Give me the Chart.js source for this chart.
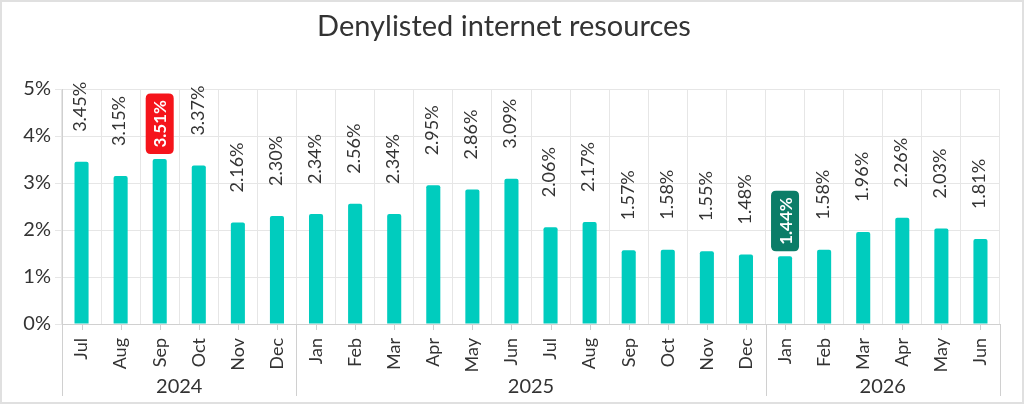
<!DOCTYPE html>
<html>
<head>
<meta charset="utf-8">
<script src="https://cdn.jsdelivr.net/npm/chart.js@4"></script>
<style>
  html, body { margin: 0; padding: 0; background: #fff; }
  #wrap { width: 1024px; height: 404px; position: relative; }
</style>
</head>
<body>
<div id="wrap"><canvas id="denyChart"></canvas></div>
<script>
// ---- data ----
const months = ["Jul", "Aug", "Sep", "Oct", "Nov", "Dec",
  "Jan", "Feb", "Mar", "Apr", "May", "Jun", "Jul", "Aug", "Sep", "Oct", "Nov", "Dec",
  "Jan", "Feb", "Mar", "Apr", "May", "Jun"];
const years = ["2024", "2025", "2026"];
const yearStart = [0, 6, 18]; // first month index of each year
const shares = [3.45, 3.15, 3.51, 3.37, 2.16, 2.30,
  2.34, 2.56, 2.34, 2.95, 2.86, 3.09, 2.06, 2.17, 1.57, 1.58, 1.55, 1.48,
  1.44, 1.58, 1.96, 2.26, 2.03, 1.81];
const yTicks = [0, 1, 2, 3, 4, 5];

const barColor = "#00CCBE";
const textColor = "#333333";
const gridColor = "#e6e6e6";
const fontFamily = "Lato, 'Noto Sans', sans-serif";

const maxIdx = shares.indexOf(Math.max(...shares));
const minIdx = shares.indexOf(Math.min(...shares));

// rounded box helper
function roundBox(ctx, x, y, w, h, r) {
  ctx.beginPath();
  ctx.moveTo(x + r, y);
  ctx.lineTo(x + w - r, y);
  ctx.quadraticCurveTo(x + w, y, x + w, y + r);
  ctx.lineTo(x + w, y + h - r);
  ctx.quadraticCurveTo(x + w, y + h, x + w - r, y + h);
  ctx.lineTo(x + r, y + h);
  ctx.quadraticCurveTo(x, y + h, x, y + h - r);
  ctx.lineTo(x, y + r);
  ctx.quadraticCurveTo(x, y, x + r, y);
  ctx.closePath();
}

// title, value labels, year groups and frame
const extras = {
  id: "extras",
  afterDraw(chart) {
    const ctx = chart.ctx;
    const xs = chart.scales.x;
    const area = chart.chartArea;
    const meta = chart.getDatasetMeta(0);
    ctx.save();

    // frame
    ctx.strokeStyle = "#e0e0e0";
    ctx.lineWidth = 2;
    ctx.strokeRect(1, 1, chart.width - 2, chart.height - 2);

    // title
    ctx.fillStyle = textColor;
    ctx.font = "29px " + fontFamily;
    ctx.textAlign = "center";
    ctx.textBaseline = "middle";
    ctx.fillText("Denylisted internet resources", 504, 27);

    // value labels
    meta.data.forEach((bar, i) => {
      const txt = shares[i].toFixed(2) + "%";
      ctx.save();
      if (i === maxIdx || i === minIdx) {
        ctx.font = "bold 17px " + fontFamily;
        const tw = ctx.measureText(txt).width;
        const h = tw + 13, w = 28;
        const bottom = bar.y - 5;
        ctx.fillStyle = i === maxIdx ? "#F5141B" : "#0B7D68";
        roundBox(ctx, bar.x - w / 2, bottom - h, w, h, 5);
        ctx.fill();
        ctx.translate(bar.x, bottom - 6.5);
        ctx.rotate(-Math.PI / 2);
        ctx.fillStyle = "#fff";
        ctx.textAlign = "left";
        ctx.textBaseline = "middle";
        ctx.fillText(txt, 0, 1);
      } else {
        ctx.font = "18px " + fontFamily;
        ctx.translate(bar.x - 1, bar.y - 30);
        ctx.rotate(-Math.PI / 2);
        ctx.fillStyle = textColor;
        ctx.textAlign = "left";
        ctx.textBaseline = "middle";
        ctx.fillText(txt, 0, 0);
      }
      ctx.restore();
    });

    // small ticks under bars
    ctx.strokeStyle = "#d0d0d0";
    ctx.lineWidth = 1;
    months.forEach((m, i) => {
      const x = Math.round(xs.getPixelForValue(i)) + 0.5;
      ctx.beginPath();
      ctx.moveTo(x, area.bottom);
      ctx.lineTo(x, area.bottom + 6);
      ctx.stroke();
    });

    // year separators + labels
    const half = (xs.getPixelForValue(1) - xs.getPixelForValue(0)) / 2;
    const bounds = yearStart.map((s) => xs.getPixelForValue(s) - half);
    bounds.push(area.right);
    bounds.forEach((b) => {
      const x = Math.round(b) + 0.5;
      ctx.beginPath();
      ctx.moveTo(x, area.bottom);
      ctx.lineTo(x, 396);
      ctx.stroke();
    });
    ctx.fillStyle = textColor;
    ctx.font = "20px " + fontFamily;
    ctx.textAlign = "center";
    ctx.textBaseline = "middle";
    years.forEach((y, k) => {
      ctx.fillText(y, (bounds[k] + bounds[k + 1]) / 2, 387);
    });
    ctx.restore();
  },
};

document.addEventListener("DOMContentLoaded", function () {
  const ctx = document.getElementById("denyChart").getContext("2d");
  new Chart(ctx, {
    type: "bar",
    data: {
      labels: months,
      datasets: [
        {
          label: "Denylisted internet resources",
          data: shares,
          backgroundColor: barColor,
          borderRadius: { topLeft: 2, topRight: 2 },
          borderSkipped: "bottom",
          barPercentage: 0.36,
          categoryPercentage: 1.0,
        },
      ],
    },
    options: {
      responsive: true,
      maintainAspectRatio: false,
      animation: false,
      layout: { padding: { top: 89, right: 24, left: 0, bottom: 0 } },
      plugins: {
        legend: { display: false },
        tooltip: { enabled: false },
      },
      scales: {
        x: {
          offset: true,
          grid: { color: gridColor, offset: true, drawTicks: false },
          border: { color: "#d0d0d0" },
          ticks: {
            color: textColor,
            font: { size: 18, family: fontFamily },
            minRotation: 90,
            maxRotation: 90,
            padding: 14,
            autoSkip: false,
          },
          afterFit(scale) {
            scale.height = 80;
          },
        },
        y: {
          min: 0,
          max: 5,
          afterBuildTicks(scale) {
            scale.ticks = yTicks.map((v) => ({ value: v }));
          },
          grid: { color: gridColor, tickLength: 7 },
          border: { color: "#d0d0d0" },
          ticks: {
            color: textColor,
            font: { size: 20, family: fontFamily },
            padding: 4,
            callback: (v) => v + "%",
          },
          afterFit(scale) {
            scale.width = 62;
          },
        },
      },
    },
    plugins: [extras],
  });
});
</script>
</body>
</html>
